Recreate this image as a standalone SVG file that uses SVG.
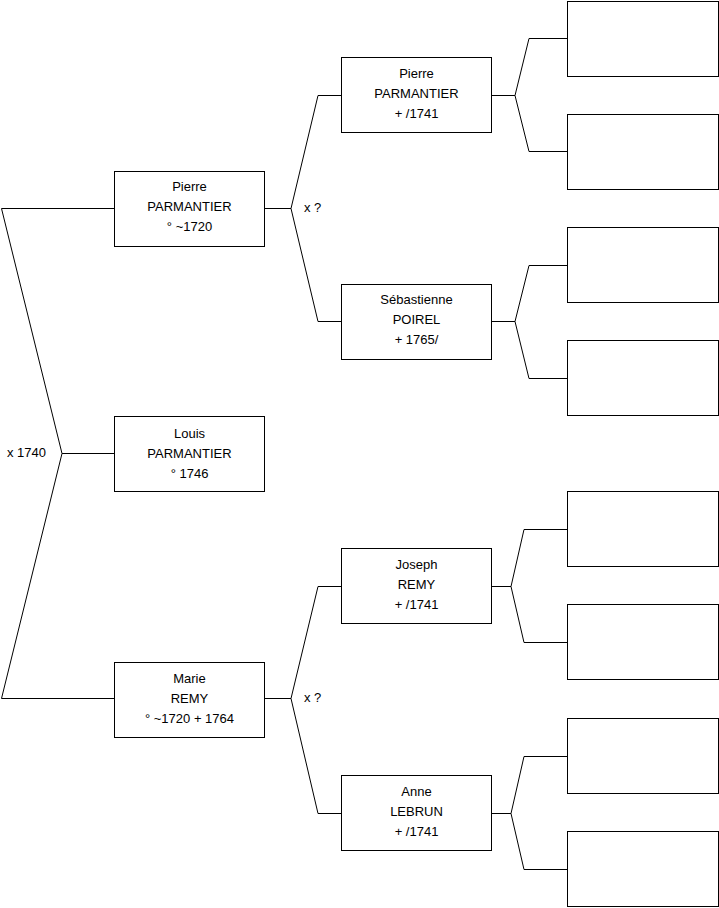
<svg xmlns="http://www.w3.org/2000/svg" width="719" height="908" viewBox="0 0 719 908">
<style>
.box{fill:#fff;stroke:#000;stroke-width:1}
.ln{fill:none;stroke:#000;stroke-width:1}
text{font-family:"Liberation Sans",Arial,sans-serif;font-size:13px;fill:#000}
.c{text-anchor:middle}
</style>
<rect width="719" height="908" fill="#fff"/>
<g id="connectors">
<polyline class="ln" points="114,208.5 1.5,208.5 62,453.5 1.5,698.5 114,698.5"/>
<line class="ln" x1="62" y1="453.5" x2="114" y2="453.5"/>
<polyline class="ln" points="265,208.5 291,208.5"/>
<polyline class="ln" points="341,95.5 318,95.5 291,208.5 318,321.5 341,321.5"/>
<polyline class="ln" points="265,698.5 291,698.5"/>
<polyline class="ln" points="341,586.5 318,586.5 291,698.5 318,813.5 341,813.5"/>
<polyline class="ln" points="492,95.5 515,95.5"/>
<polyline class="ln" points="567,38.5 529,38.5 515,95.5 529,151.5 567,151.5"/>
<polyline class="ln" points="492,321.5 515,321.5"/>
<polyline class="ln" points="567,265.5 529,265.5 515,321.5 529,378.5 567,378.5"/>
<polyline class="ln" points="492,586.5 511,586.5"/>
<polyline class="ln" points="567,529.5 524,529.5 511,586.5 524,642.5 567,642.5"/>
<polyline class="ln" points="492,813.5 511,813.5"/>
<polyline class="ln" points="567,756.5 524,756.5 511,813.5 524,869.5 567,869.5"/>
<text x="7" y="457">x 1740</text>
<text x="304" y="212">x ?</text>
<text x="304" y="702">x ?</text>
</g>
<g id="n-pierre1">
<rect class="box" x="114.5" y="171.5" width="150" height="75"/>
<text class="c" x="189.5" y="191">Pierre</text>
<text class="c" x="189.5" y="211">PARMANTIER</text>
<text class="c" x="189.5" y="231">° ~1720</text>
</g>
<g id="n-louis">
<rect class="box" x="114.5" y="416.5" width="150" height="75"/>
<text class="c" x="189.5" y="438">Louis</text>
<text class="c" x="189.5" y="458">PARMANTIER</text>
<text class="c" x="189.5" y="478">° 1746</text>
</g>
<g id="n-marie">
<rect class="box" x="114.5" y="662.5" width="150" height="75"/>
<text class="c" x="189.5" y="683">Marie</text>
<text class="c" x="189.5" y="703">REMY</text>
<text class="c" x="189.5" y="723">° ~1720 + 1764</text>
</g>
<g id="n-pierre2">
<rect class="box" x="341.5" y="57.5" width="150" height="75"/>
<text class="c" x="416.5" y="78">Pierre</text>
<text class="c" x="416.5" y="98">PARMANTIER</text>
<text class="c" x="416.5" y="118">+ /1741</text>
</g>
<g id="n-sebastienne">
<rect class="box" x="341.5" y="284.5" width="150" height="75"/>
<text class="c" x="416.5" y="304">Sébastienne</text>
<text class="c" x="416.5" y="324">POIREL</text>
<text class="c" x="416.5" y="344">+ 1765/</text>
</g>
<g id="n-joseph">
<rect class="box" x="341.5" y="548.5" width="150" height="75"/>
<text class="c" x="416.5" y="569">Joseph</text>
<text class="c" x="416.5" y="589">REMY</text>
<text class="c" x="416.5" y="609">+ /1741</text>
</g>
<g id="n-anne">
<rect class="box" x="341.5" y="775.5" width="150" height="75"/>
<text class="c" x="416.5" y="796">Anne</text>
<text class="c" x="416.5" y="816">LEBRUN</text>
<text class="c" x="416.5" y="836">+ /1741</text>
</g>
<g id="n-r1"><rect class="box" x="567.5" y="1.5" width="151" height="75"/></g>
<g id="n-r2"><rect class="box" x="567.5" y="114.5" width="151" height="75"/></g>
<g id="n-r3"><rect class="box" x="567.5" y="227.5" width="151" height="75"/></g>
<g id="n-r4"><rect class="box" x="567.5" y="340.5" width="151" height="75"/></g>
<g id="n-r5"><rect class="box" x="567.5" y="491.5" width="151" height="75"/></g>
<g id="n-r6"><rect class="box" x="567.5" y="604.5" width="151" height="75"/></g>
<g id="n-r7"><rect class="box" x="567.5" y="718.5" width="151" height="75"/></g>
<g id="n-r8"><rect class="box" x="567.5" y="831.5" width="151" height="75"/></g>
</svg>
